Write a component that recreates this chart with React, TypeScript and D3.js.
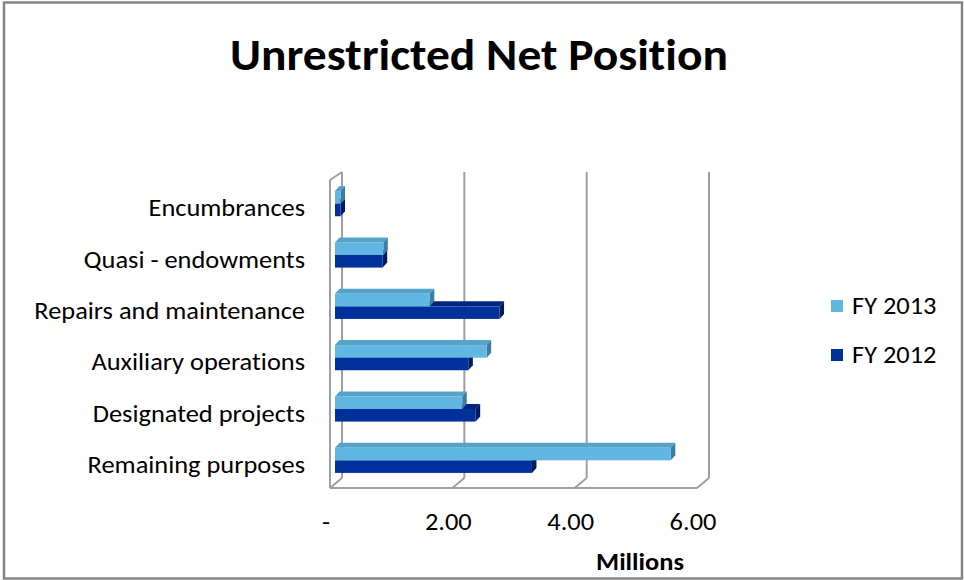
import React from "react";
import * as d3 from "d3";

const title = "Unrestricted Net Position";
const categories = [
  "Encumbrances",
  "Quasi - endowments",
  "Repairs and maintenance",
  "Auxiliary operations",
  "Designated projects",
  "Remaining purposes",
];
const seriesNames = ["FY 2013", "FY 2012"];
const fy2013 = [0.09, 0.79, 1.55, 2.48, 2.08, 5.49];
const fy2012 = [0.09, 0.78, 2.69, 2.18, 2.3, 3.22];
const xTicks = [0, 2, 4, 6];
const xTickLabels = ["-", "2.00", "4.00", "6.00"];
const axisTitle = "Millions";

const W = 964;
const H = 580;
const FONT = "Carlito, Calibri, 'Open Sans', sans-serif";
const SX = 1.1;

const light = { front: "#62b6e2", top: "#56a3ca", side: "#3f7d9e" };
const dark = { front: "#00309a", top: "#002680", side: "#001c5e" };
const gridColor = "#9f9f9f";

function T(props: {
  x: number;
  y: number;
  anchor?: "start" | "middle" | "end";
  size?: number;
  bold?: boolean;
  children: React.ReactNode;
}) {
  const { x, y, anchor = "start", size = 24, bold = false, children } = props;
  return (
    <text
      transform={`translate(${x},${y}) scale(${SX},1)`}
      textAnchor={anchor}
      fontSize={size}
      fontWeight={bold ? "bold" : "normal"}
      fill="#000"
    >
      {children}
    </text>
  );
}

export default function App() {
  const xFront = d3.scaleLinear().domain([0, 6]).range([330, 697]);
  const floorY = 488;
  const wallTopFront = 180;
  const depth = { dx: 12, dy: -10 };
  const y = d3
    .scaleBand<string>()
    .domain(categories)
    .range([wallTopFront, floorY])
    .paddingInner(0);
  const bOff = { dx: 5, dy: -4 };
  const xBar = d3
    .scaleLinear()
    .domain([0, 6])
    .range([xFront(0) + bOff.dx, xFront(6) + bOff.dx]);
  const bDepth = { dx: 4.5, dy: -5 };
  const t = y.bandwidth() * 0.245;

  const bar = (v: number, yT: number, yB: number, c: typeof light, key: string) => {
    const x0 = xBar(0);
    const x1 = xBar(v);
    const pts = (a: number[][]) => a.map((p) => p.join(",")).join(" ");
    return (
      <g key={key}>
        <polygon
          points={pts([
            [x0, yT],
            [x1, yT],
            [x1 + bDepth.dx, yT + bDepth.dy],
            [x0 + bDepth.dx, yT + bDepth.dy],
          ])}
          fill={c.top}
        />
        <polygon
          points={pts([
            [x1, yT],
            [x1, yB],
            [x1 + bDepth.dx, yB + bDepth.dy],
            [x1 + bDepth.dx, yT + bDepth.dy],
          ])}
          fill={c.side}
        />
        <rect x={x0} y={yT} width={x1 - x0} height={yB - yT} fill={c.front} />
      </g>
    );
  };

  const backTop = wallTopFront + depth.dy + 2;
  const backBottom = floorY + depth.dy;

  return (
    <svg
      width={W}
      height={H}
      style={{ position: "absolute", left: 0, top: 0, background: "#fff", fontVariantLigatures: "none" }}
      fontFamily={FONT}
    >
      <rect x={0} y={0} width={W} height={H} fill="#fff" />
      <rect x={4} y={2.5} width={958} height={576} fill="none" stroke="#868686" strokeWidth={2.5} />

      <text x={479} y={70} textAnchor="middle" fontSize={44} fontWeight="bold" fill="#000" textLength={498} lengthAdjust="spacingAndGlyphs">
        {title}
      </text>

      <g stroke={gridColor} strokeWidth={2} fill="none">
        {xTicks.map((tk) => (
          <g key={"g" + tk}>
            <line x1={xFront(tk) + depth.dx} x2={xFront(tk) + depth.dx} y1={backTop} y2={backBottom} />
            <line x1={xFront(tk)} y1={floorY} x2={xFront(tk) + depth.dx} y2={backBottom} />
          </g>
        ))}
        <line x1={xFront(0)} x2={xFront(6)} y1={floorY} y2={floorY} />
        <line x1={xFront(0)} x2={xFront(0)} y1={wallTopFront} y2={floorY} />
        <line x1={xFront(0)} y1={wallTopFront} x2={xFront(0) + depth.dx} y2={backTop} />
      </g>

      {categories.map((cat, i) => {
        const c = (y(cat) as number) + y.bandwidth() / 2 + bOff.dy + 2;
        return (
          <g key={cat}>
            {bar(fy2012[i], c, c + t, dark, "d")}
            {bar(fy2013[i], c - t, c, light, "l")}
          </g>
        );
      })}

      {categories.map((cat) => (
        <T key={"lab" + cat} x={305} y={(y(cat) as number) + y.bandwidth() / 2 + 10.5} anchor="end">
          {cat}
        </T>
      ))}

      {xTicks.map((tk, i) => (
        <T key={"xt" + tk} x={xFront(tk) - 4} y={529.5} anchor="middle">
          {xTickLabels[i]}
        </T>
      ))}
      <T x={640} y={570} anchor="middle" bold>
        {axisTitle}
      </T>

      {seriesNames.map((s, i) => {
        const cy = 306 + i * 49;
        return (
          <g key={s}>
            <rect x={831} y={cy - 6} width={12} height={12} fill={i === 0 ? light.front : dark.front} />
            <T x={852} y={cy + 8}>
              {s}
            </T>
          </g>
        );
      })}
    </svg>
  );
}
